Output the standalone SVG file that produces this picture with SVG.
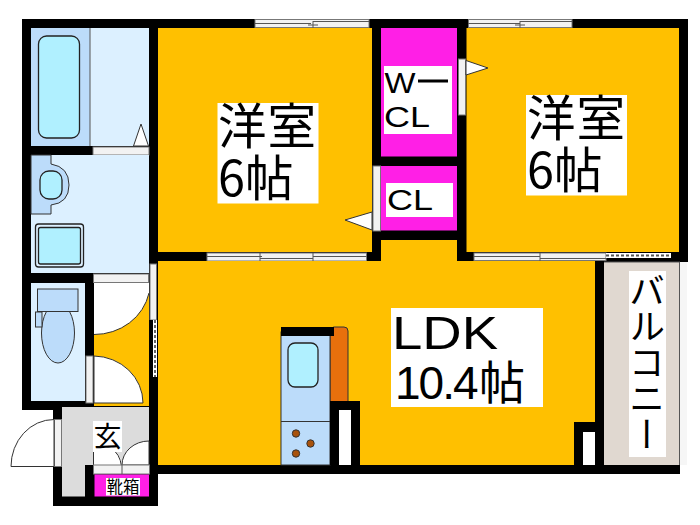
<svg xmlns="http://www.w3.org/2000/svg" width="700" height="525" viewBox="0 0 700 525">
<style>
.w{fill:#000}
.o{fill:#ffc000}
.m{fill:#ff1fe6}
.l{fill:#dcf0ff}
.b{fill:#bcdcfa;stroke:#333;stroke-width:1}
.c{fill:#b0f0ff;stroke:#222;stroke-width:1.3}
.d{fill:#fff;stroke:#333;stroke-width:1}
.s{fill:#f2f2f2;stroke:#777;stroke-width:1}
.g{stroke:#555;stroke-width:1;fill:none}
.lb{fill:#fff}
.t{font-family:"Noto Sans CJK JP","Liberation Sans",sans-serif;fill:#000}
.u{font-family:"Liberation Sans","Noto Sans CJK JP",sans-serif;fill:#000}
</style>
<rect width="700" height="525" fill="#fff"/>
<g id="walls">
<path class="w" d="M22 19H688V262H680V474H158V506H53V410H22Z"/>
</g>
<g id="bath">
<rect class="l" x="31" y="28" width="118" height="118"/>
<rect class="b" x="31" y="28" width="59" height="118" style="stroke:none"/>
<path class="g" d="M90 28V146"/>
<rect class="c" x="38.500" y="36" width="41" height="102" rx="8"/>
<rect class="s" x="93" y="147" width="56" height="8"/>
<path class="d" d="M133.500 146L141 124L148.500 146Z"/>
</g>
<g id="washroom">
<rect class="l" x="31" y="155" width="118" height="118"/>
<path class="b" d="M31 155H51V164Q69 167 69 185Q69 203 51 205V214H31Z"/>
<rect class="c" x="40" y="171" width="22" height="28" rx="9"/>
<rect class="l" x="35.500" y="224" width="48" height="43" rx="3" stroke="#222" stroke-width="1.300"/>
<rect class="c" x="38.500" y="227.500" width="42" height="36.500" rx="2"/>
</g>
<g id="toilet">
<rect class="l" x="31" y="283" width="54" height="118"/>
<ellipse class="b" cx="58" cy="333" rx="16.500" ry="30"/>
<rect class="b" x="37.500" y="289" width="40.500" height="22.500"/>
<rect class="b" x="35.500" y="312" width="6.500" height="15"/>
<rect class="s" x="86" y="356" width="7" height="47"/>
</g>
<g id="hall">
<rect class="o" x="94" y="283" width="55" height="123"/>
<rect class="s" x="93.500" y="274" width="55" height="8.500"/>
<path class="d" d="M94 283H149V293A56 52 0 0 1 94 334.500Z" style="stroke:none"/>
<path class="g" d="M94 334.500A56 52 0 0 0 149 293" style="stroke:#333"/>
<path class="d" d="M94 356A50 47 0 0 1 143 403H94Z"/>
</g>
<g id="entrance">
<path fill="#dcdcdc" d="M62 407H149V465H94V465H85V496.500H62Z"/>
<path class="w" d="M85 465H94V496.500H85Z"/>
<rect class="s" x="54.500" y="419.500" width="7" height="47"/>
<path class="d" d="M54 419.500A43 47 0 0 0 11 466.500H54Z"/>
<path fill="#fff" d="M94 452H115Q122 458 122 465H94Z"/>
<path class="d" d="M122 465A27 24 0 0 1 149 441V465Z"/>
<path class="g" d="M93.500 452V465M115 451.500Q122 458 122 474" style="stroke:#333"/>
<rect class="s" x="93.500" y="465" width="56" height="9"/>
<path class="g" d="M122 465V474"/>
<rect class="m" x="94.500" y="474.500" width="54.500" height="22"/>
<rect class="lb" x="106" y="478" width="34" height="17.500"/>
<text class="t" x="106.500" y="492.500" font-size="16.500">靴箱</text>
<rect class="lb" x="93" y="421" width="29" height="31"/>
<text class="t" x="93.500" y="447" font-size="28">玄</text>
</g>
<g id="room1">
<rect class="o" x="158" y="28" width="214" height="224"/>
<rect class="s" x="255" y="19.500" width="114" height="8"/>
<path class="g" d="M255 23.500H311M313 21.500H369M313 21V28M308 25H318"/>
<rect class="s" x="207" y="253" width="159.500" height="8"/>
<path class="g" d="M207 256.500H262M260 253V261M313 253V261M313 256.500H366.500M260 258.500H313"/>
<rect class="lb" x="217.500" y="103" width="101" height="100.500"/>
<text class="t" x="218" y="144" font-size="48.500" letter-spacing="1">洋室</text>
<text class="t" x="218" y="196" font-size="48.500">6帖</text>
<path class="d" d="M372 212L345 220L372 230Z"/>
</g>
<g id="room2">
<rect class="o" x="466.500" y="28" width="212.500" height="224"/>
<rect class="s" x="468.500" y="19.500" width="103.500" height="8"/>
<path class="g" d="M468 23.500H520M520 21.500H572M520 21V28M515 25H525"/>
<rect class="s" x="474" y="253" width="132" height="7.500"/>
<path class="g" d="M474 256.500H540M540 258.500H606M540 253V261"/>
<path fill="#fff" d="M606 253H671V258H606Z"/>
<path d="M606 255.500H671" stroke="#555" stroke-width="2" stroke-dasharray="3 2"/>
<rect class="lb" x="526" y="95" width="101" height="100.500"/>
<text class="t" x="527" y="136" font-size="48.500" letter-spacing="1">洋室</text>
<text class="t" x="527" y="188" font-size="48.500">6帖</text>
</g>
<g id="wcl">
<rect class="m" x="381" y="28" width="76" height="128.500"/>
<rect class="lb" x="384" y="66" width="68" height="68"/>
<text class="u" x="384.500" y="93" font-size="30" textLength="31" lengthAdjust="spacingAndGlyphs">W</text>
<rect class="w" x="418" y="79.500" width="30" height="3"/>
<text class="u" x="384" y="127" font-size="29" textLength="46" lengthAdjust="spacingAndGlyphs">CL</text>
<rect class="s" x="458.500" y="59" width="7" height="56"/>
<path class="d" d="M466 60.500L488 68L466 75Z"/>
</g>
<g id="cl">
<rect class="m" x="381" y="166" width="76" height="64.500"/>
<rect class="lb" x="386" y="183" width="67" height="34"/>
<text class="u" x="387" y="210" font-size="29" textLength="46" lengthAdjust="spacingAndGlyphs">CL</text>
<rect class="s" x="373" y="166" width="7.500" height="65"/>
</g>
<g id="ldk">
<rect class="o" x="158" y="261" width="437" height="204"/>
<rect class="o" x="381" y="240" width="76" height="22"/>
<rect class="lb" x="391" y="308" width="152" height="99"/>
<text class="u" x="392" y="349" font-size="46" textLength="106" lengthAdjust="spacingAndGlyphs">LDK</text>
<text class="u" x="395" y="399" font-size="46" letter-spacing="-2">10.4<tspan class="t" x="479" letter-spacing="0">帖</tspan></text>
<rect class="s" x="150" y="264" width="6.500" height="56"/>
<rect fill="#fff" x="153" y="320" width="4" height="57"/>
<rect class="w" x="149" y="320" width="4" height="57"/>
<path d="M155 320V377" stroke="#666" stroke-width="2" stroke-dasharray="3 2"/>
<rect class="w" x="574" y="422" width="21" height="43"/>
<rect class="lb" x="583" y="432" width="12" height="33"/>
</g>
<g id="kitchen">
<rect x="330" y="327" width="18" height="80" rx="4" fill="#e8700c" stroke="#333" stroke-width="1"/>
<rect class="b" x="281" y="332" width="49" height="133"/>
<path class="g" d="M281 421.500H330" style="stroke:#333"/>
<rect class="w" x="281" y="327" width="53" height="9"/>
<rect class="c" x="288" y="343" width="30" height="44" rx="7"/>
<circle cx="296" cy="433.500" r="3.700" fill="#a8520c" stroke="#333"/>
<circle cx="310.500" cy="443.500" r="3.700" fill="#a8520c" stroke="#333"/>
<circle cx="296" cy="453.500" r="3.700" fill="#a8520c" stroke="#333"/>
<rect class="w" x="330" y="401" width="30" height="64"/>
<rect class="lb" x="339" y="410" width="12" height="55"/>
</g>
<g id="balcony">
<rect class="w" x="595" y="261" width="9" height="204"/>
<rect fill="#e0d8d0" x="604" y="262" width="75" height="203"/>
<rect fill="#f6f6f6" x="680" y="262" width="7" height="203"/>
<path class="g" d="M679.500 262V465M604 262H680"/>
<rect class="lb" x="629" y="271" width="37" height="186"/>
<text class="t" x="647" y="272" font-size="36" style="writing-mode:vertical-rl">バルコニー</text>
</g>
</svg>
